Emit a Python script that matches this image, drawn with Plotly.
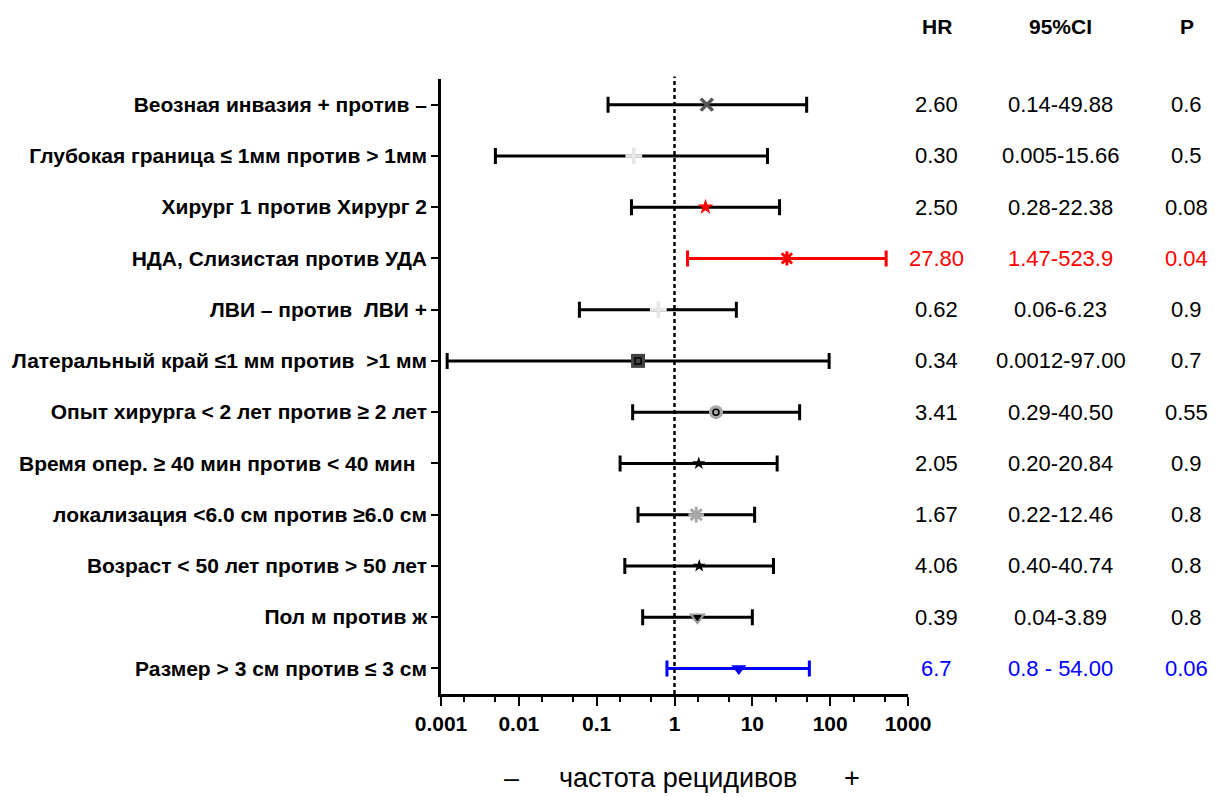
import plotly.graph_objects as go

labels = [
    "Веозная инвазия + против –",
    "Глубокая граница ≤ 1мм против > 1мм",
    "Хирург 1 против Хирург 2",
    "НДА, Слизистая против УДА",
    "ЛВИ – против  ЛВИ +",
    "Латеральный край ≤1 мм против  >1 мм",
    "Опыт хирурга < 2 лет против ≥ 2 лет",
    "Время опер. ≥ 40 мин против < 40 мин\u00a0\u00a0",
    "локализация <6.0 см против ≥6.0 см",
    "Возраст < 50 лет против > 50 лет",
    "Пол м против ж",
    "Размер > 3 см против ≤ 3 см",
]
# plotted point estimates and CI bounds (as drawn)
hr_plot = [2.60, 0.30, 2.50, 27.8, 0.62, 0.34, 3.41, 2.05, 1.90, 2.08, 1.97, 6.7]
lo_plot = [0.14, 0.005, 0.28, 1.47, 0.06, 0.0012, 0.29, 0.20, 0.34, 0.23, 0.39, 0.80]
hi_plot = [49.88, 15.66, 22.38, 523.9, 6.23, 97.0, 40.5, 20.84, 10.7, 18.7, 10.0, 54.0]

# table text
hr_text = ["2.60", "0.30", "2.50", "27.80", "0.62", "0.34", "3.41", "2.05", "1.67", "4.06", "0.39", "6.7"]
ci_text = ["0.14-49.88", "0.005-15.66", "0.28-22.38", "1.47-523.9", "0.06-6.23", "0.0012-97.00",
           "0.29-40.50", "0.20-20.84", "0.22-12.46", "0.40-40.74", "0.04-3.89", "0.8 - 54.00"]
p_text = ["0.6", "0.5", "0.08", "0.04", "0.9", "0.7", "0.55", "0.9", "0.8", "0.8", "0.8", "0.06"]
row_color = ["black", "black", "black", "#ff0000", "black", "black", "black", "black", "black", "black", "black", "#0000ff"]

marker_symbol = ["x-thin-open", "cross-thin-open", "star", "asterisk-open", "cross-thin-open", "square", "circle",
                 "star", "asterisk-open", "star", "triangle-down", "triangle-down"]
marker_color = ["#555555", "#e6e6e6", "#ff0000", "#ff0000", "#e6e6e6", "#444444", "#a8a8a8", "black", "#a8a8a8",
                "black", "#999999", "#0000ff"]
marker_size = [12, 12, 12, 12, 12, 14, 14, 10, 13, 10, 15, 13]
marker_lw = [3.5, 3.5, 0, 3, 3.5, 0, 0, 0, 3, 0, 0, 0]
inner_symbol = {5: "square-open", 6: "circle-open", 10: "triangle-down"}

ticks_x = [0.001, 0.01, 0.1, 1, 10, 100, 1000]
ticks_txt = ["0.001", "0.01", "0.1", "1", "10", "100", "1000"]
headers = ["HR", "95%CI", "P"]

FONT = "Liberation Sans, Arial, sans-serif"

fig = go.Figure()
rows = list(range(len(labels)))
for i in rows:
    fig.add_trace(go.Scatter(
        x=[hr_plot[i]], y=[i], mode="markers",
        error_x=dict(type="data", symmetric=False,
                     array=[hi_plot[i] - hr_plot[i]], arrayminus=[hr_plot[i] - lo_plot[i]],
                     color=row_color[i], thickness=3, width=8),
        marker=dict(symbol=marker_symbol[i], color=marker_color[i], size=marker_size[i],
                    line=dict(width=marker_lw[i], color=marker_color[i])),
        showlegend=False, hoverinfo="skip"))
    if i in inner_symbol:
        fig.add_trace(go.Scatter(
            x=[hr_plot[i]], y=[i], mode="markers",
            marker=dict(symbol=inner_symbol[i], color="black", size=6, line=dict(width=1.5, color="black")),
            showlegend=False, hoverinfo="skip"))

fig.add_shape(type="line", xref="x", yref="paper", x0=1, x1=1, y0=0, y1=1.004,
              line=dict(color="black", width=2.5, dash="4px,3px"))

col_x = [1.0616, 1.327, 1.597]
for c, h in enumerate(headers):
    fig.add_annotation(xref="paper", yref="paper", x=col_x[c], y=1.0846, text="<b>%s</b>" % h,
                       xanchor="center", yanchor="middle",
                       showarrow=False, font=dict(family=FONT, size=21, color="black"))
for i in rows:
    for c, txt in enumerate([hr_text[i], ci_text[i], p_text[i]]):
        fig.add_annotation(xref="paper", yref="y", x=col_x[c], y=i, text=txt, showarrow=False,
                           xanchor="center", yanchor="middle",
                           font=dict(family=FONT, size=22, color=row_color[i]))

title_y = -0.1366
for xp, txt in [(0.1507, "–"), (0.5074, "частота рецидивов"), (0.8811, "+")]:
    fig.add_annotation(xref="paper", yref="paper", x=xp, y=title_y, text=txt, showarrow=False,
                       xanchor="center", yanchor="middle",
                       font=dict(family=FONT, size=27, color="black"))

fig.update_xaxes(type="log", range=[-3, 3], tickvals=ticks_x, ticktext=["<b>%s</b>" % t for t in ticks_txt],
                 showgrid=False, zeroline=False, showline=True, linecolor="black", linewidth=2.5,
                 ticks="outside", ticklen=9, tickwidth=2, tickcolor="black",
                 tickfont=dict(family=FONT, size=21, color="black"),
                 minor=dict(ticks="outside", ticklen=5, tickwidth=1.5, tickcolor="black", showgrid=False))
fig.update_yaxes(range=[11.5, -0.5], tickvals=rows, ticktext=["<b>%s</b>" % l for l in labels],
                 showgrid=False, zeroline=False, showline=True, linecolor="black", linewidth=2.5,
                 ticks="outside", ticklen=7, tickwidth=2, tickcolor="black",
                 tickfont=dict(family=FONT, size=21, color="black"))

fig.update_layout(width=1215, height=797, margin=dict(l=437, r=307, t=79, b=103),
                  plot_bgcolor="white", paper_bgcolor="white")
fig.write_html("out.html")
